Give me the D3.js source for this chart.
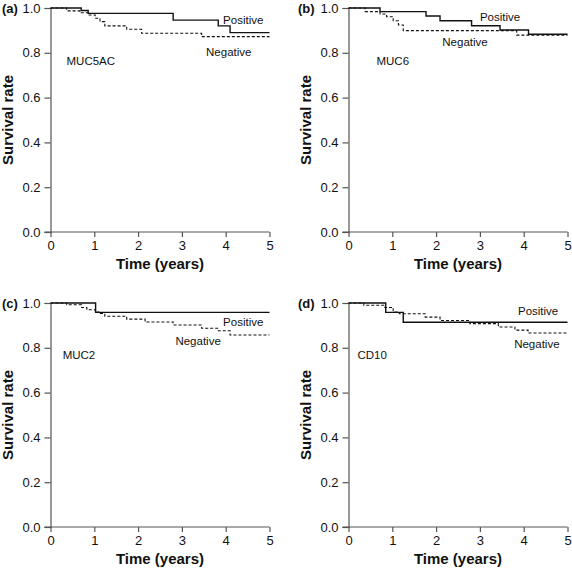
<!DOCTYPE html>
<html><head><meta charset="utf-8">
<script src="https://cdn.jsdelivr.net/npm/d3@7"></script>
<style>body{margin:0;background:#fff}svg{display:block}text{font-family:"Liberation Sans",Arial,sans-serif}</style>
</head><body>
<script>
// ---- data ----
const panelLabels = ["(a)", "(b)", "(c)", "(d)"];
const markerNames = ["MUC5AC", "MUC6", "MUC2", "CD10"];
const xTicks = [0, 1, 2, 3, 4, 5];
const yTicks = [0.0, 0.2, 0.4, 0.6, 0.8, 1.0];

const posTimesA = [0, 0.70, 0.86, 2.80, 3.83, 4.10, 5];
const posSurvA  = [1, 0.989, 0.976, 0.946, 0.920, 0.890, 0.890];
const negTimesA = [0, 0.37, 0.67, 0.86, 1.02, 1.13, 1.24, 1.74, 2.08, 3.45, 5];
const negSurvA  = [1, 0.987, 0.979, 0.969, 0.954, 0.939, 0.920, 0.905, 0.887, 0.872, 0.872];

const posTimesB = [0, 0.72, 1.77, 2.09, 2.81, 3.46, 4.11, 5];
const posSurvB  = [1, 0.984, 0.964, 0.943, 0.921, 0.902, 0.883, 0.883];
const negTimesB = [0, 0.38, 0.72, 0.87, 1.02, 1.14, 1.25, 3.84, 5];
const negSurvB  = [1, 0.984, 0.973, 0.961, 0.943, 0.924, 0.899, 0.879, 0.879];

const posTimesC = [0, 1.03, 5];
const posSurvC  = [1, 0.958, 0.958];
const negTimesC = [0, 0.37, 0.71, 0.83, 1.02, 1.13, 1.24, 1.74, 2.16, 2.80, 3.45, 3.83, 4.10, 5];
const negSurvC  = [1, 0.992, 0.980, 0.970, 0.960, 0.953, 0.941, 0.928, 0.915, 0.902, 0.887, 0.876, 0.857, 0.857];

const posTimesD = [0, 0.85, 1.25, 5];
const posSurvD  = [1, 0.958, 0.914, 0.914];
const negTimesD = [0, 0.35, 0.83, 1.02, 1.16, 1.75, 2.09, 2.77, 3.42, 3.80, 4.10, 5];
const negSurvD  = [1, 0.990, 0.980, 0.960, 0.952, 0.937, 0.922, 0.908, 0.893, 0.879, 0.866, 0.866];

// annotation positions in data units [t, survival]
const posLabelAt = [[4.40, 0.946], [3.46, 0.960], [4.40, 0.915], [4.33, 0.964]];
const negLabelAt = [[4.07, 0.804], [2.66, 0.848], [3.37, 0.830], [4.30, 0.817]];
const nameLabelAt = [[0.92, 0.763], [1.01, 0.763], [0.65, 0.768], [0.54, 0.768]];

const series = [
  {pos: [posTimesA, posSurvA], neg: [negTimesA, negSurvA]},
  {pos: [posTimesB, posSurvB], neg: [negTimesB, negSurvB]},
  {pos: [posTimesC, posSurvC], neg: [negTimesC, negSurvC]},
  {pos: [posTimesD, posSurvD], neg: [negTimesD, negSurvD]}
];

// ---- layout ----
const W = 572, H = 569;
const svg = d3.select("body").append("svg").attr("width", W).attr("height", H);
const origins = [[50.5, 8], [348.5, 8], [50.5, 303], [348.5, 303]];
const pw = 219, ph = 224;
const axisColor = "#555";

series.forEach((s, i) => {
  const [ox, oy] = origins[i];
  const g = svg.append("g").attr("transform", `translate(${ox},${oy})`);
  const x = d3.scaleLinear().domain([0, 5]).range([0, pw]);
  const y = d3.scaleLinear().domain([0, 1]).range([ph, 0]);

  const xa = g.append("g").attr("transform", `translate(0,${ph})`)
    .call(d3.axisBottom(x).tickValues(xTicks).tickFormat(d3.format("d")).tickSizeOuter(0).tickSize(5).tickPadding(4));
  const ya = g.append("g")
    .call(d3.axisLeft(y).tickValues(yTicks).tickFormat(d3.format(".1f")).tickSizeOuter(0).tickSize(6).tickPadding(4));
  [xa, ya].forEach(a => {
    a.select(".domain").attr("stroke", axisColor).attr("stroke-width", 1.2);
    a.selectAll(".tick line").attr("stroke", axisColor).attr("stroke-width", 1.2);
    a.selectAll("text").attr("fill", "#111").style("font-size", "13px")
      .style("font-family", '"Liberation Sans", Arial, sans-serif');
  });
  xa.select(".domain").attr("d", `M-6,0H${pw}`);

  const line = d3.line().x(d => x(d[0])).y(d => y(d[1])).curve(d3.curveStepAfter);
  const toPts = arr => arr[0].map((t, k) => [t, arr[1][k]]);

  g.append("path").datum(toPts(s.neg)).attr("d", line)
    .attr("fill", "none").attr("stroke", "#111").attr("stroke-width", 1.1)
    .attr("stroke-dasharray", "3,2");
  g.append("path").datum(toPts(s.pos)).attr("d", line)
    .attr("fill", "none").attr("stroke", "#111").attr("stroke-width", 1.4);

  const ann = (pt, txt) => g.append("text").attr("x", x(pt[0])).attr("y", y(pt[1]))
    .attr("text-anchor", "middle").attr("dominant-baseline", "central")
    .style("font-size", "11.5px").attr("fill", "#111").text(txt);
  ann(posLabelAt[i], "Positive");
  ann(negLabelAt[i], "Negative");
  ann(nameLabelAt[i], markerNames[i]);

  g.append("text").attr("x", pw / 2).attr("y", ph + 31)
    .attr("text-anchor", "middle").attr("dominant-baseline", "central")
    .style("font-size", "15px").style("font-weight", "bold").attr("fill", "#111")
    .text("Time (years)");
  g.append("text").attr("transform", `translate(${-38},${ph / 2}) rotate(-90)`)
    .attr("text-anchor", "middle")
    .style("font-size", "15px").style("font-weight", "bold").attr("fill", "#111")
    .text("Survival rate");
  g.append("text").attr("x", -ox + (i % 2 ? 298 - 348.5 + ox : 2)).attr("y", 5)
    .style("font-size", "13px").style("font-weight", "bold").attr("fill", "#111")
    .text(panelLabels[i]);
});
</script>
</body></html>
